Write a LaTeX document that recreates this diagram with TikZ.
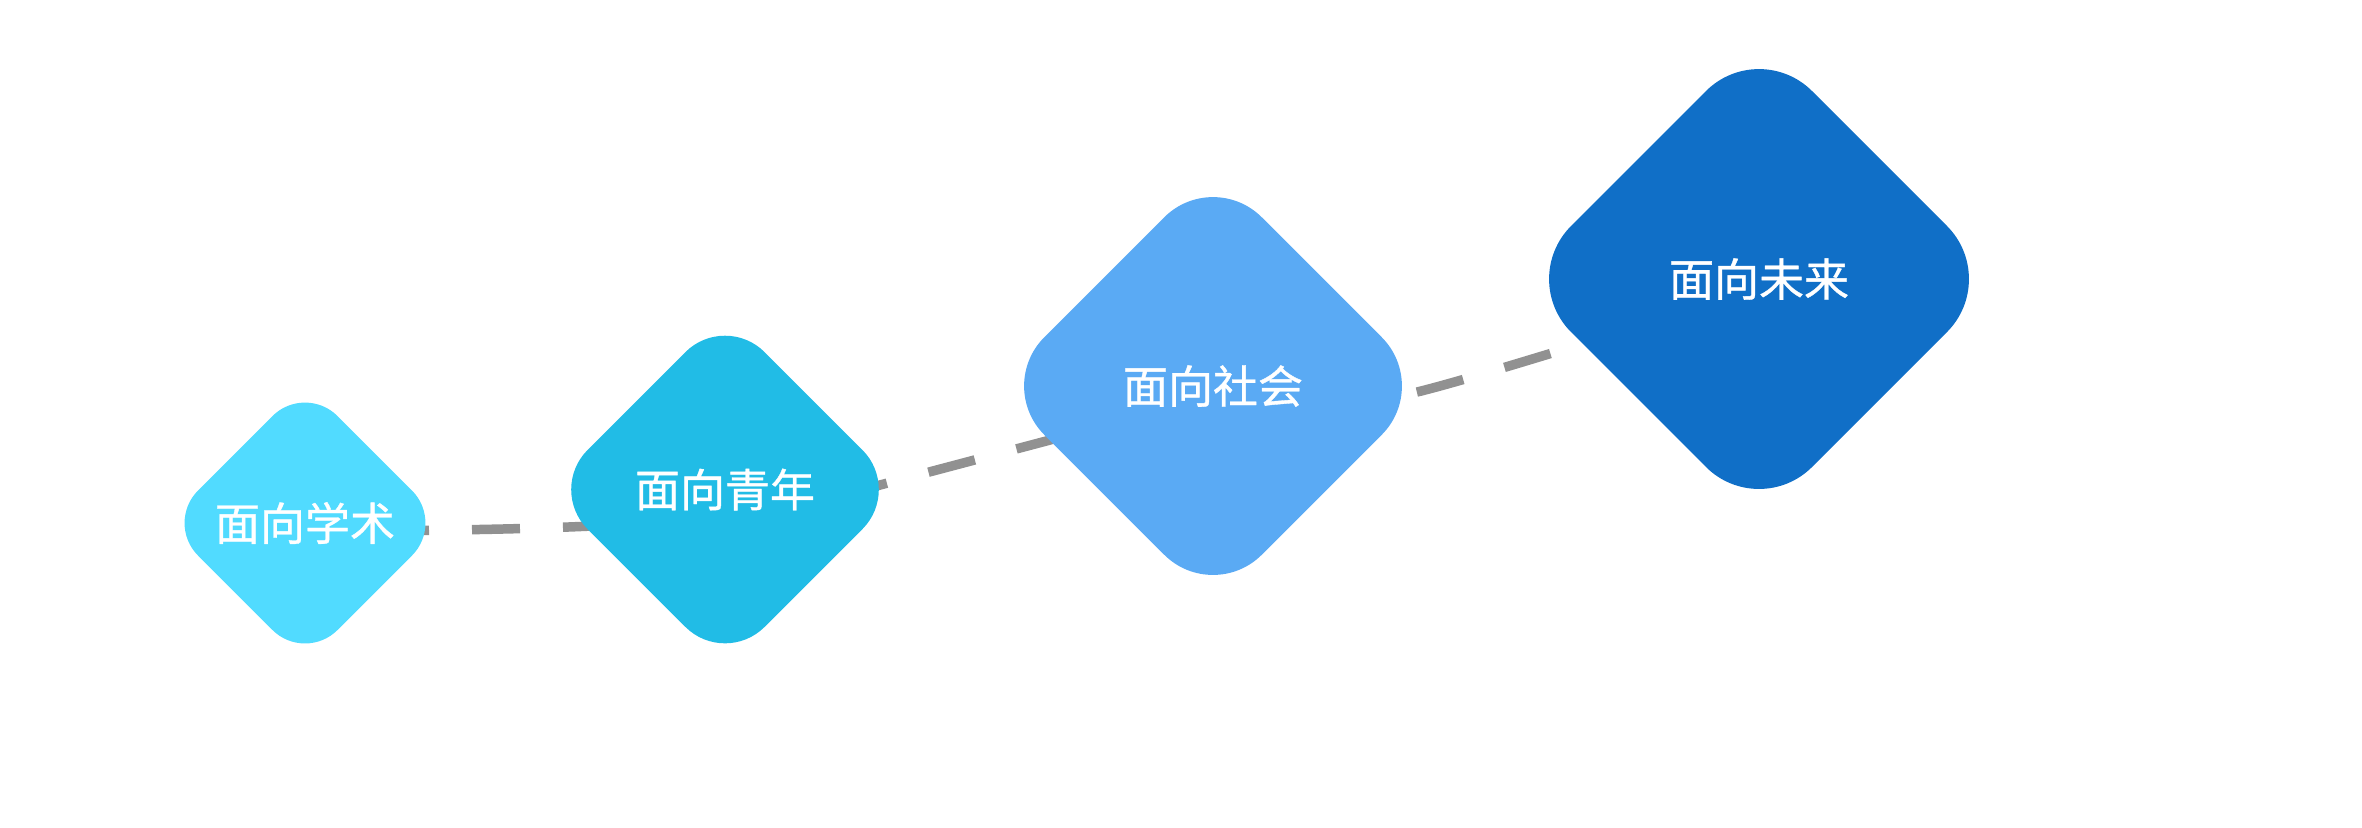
\documentclass[tikz,border=0pt]{standalone}
\usepackage{fontspec}
\newfontfamily\cjk{Noto Sans CJK SC}[FakeBold=0.8]
\usetikzlibrary{shapes.geometric}

\definecolor{xueshu}{RGB}{81,219,255}
\definecolor{qingnian}{RGB}{33,188,230}
\definecolor{shehui}{RGB}{90,170,244}
\definecolor{weilai}{RGB}{16,111,199}
\definecolor{trailgray}{RGB}{145,145,145}

\begin{document}
\begin{tikzpicture}[
    gem/.style={diamond, aspect=1, inner sep=0pt, outer sep=0pt, text=white, font=\cjk\fontsize{12.8}{15}\selectfont},
    trail/.style={draw=trailgray, line width=0.095cm, dash pattern=on 0.48cm off 0.43cm}
]
    \useasboundingbox (0,0) rectangle (23.62,-8.27);

    % path behind the diamonds
    \coordinate (t0) at (2.91,-5.31);
    \coordinate (ts) at (7.214,-5.163);
    \coordinate (t1) at (8.80,-4.85);
    \coordinate (t2) at (10.50,-4.40);
    \coordinate (t2b) at (12.30,-4.17);
    \coordinate (t3) at (14.17,-3.92);
    \coordinate (t4) at (16.60,-3.20);
    \draw[trail, dash phase=0.01cm] (t0) .. controls (5.004,-5.31) and (6.274,-5.270) .. (ts);
    \draw[trail, dash phase=0.61cm] (ts) .. controls (7.84,-5.092) and (8.32,-4.99) .. (t1) -- (t2)
        .. controls (11.3,-4.135) and (11.9,-4.17) .. (t2b);
    \draw[trail, dash phase=0.84cm] (t2b) .. controls (12.9,-4.17) and (13.4,-4.105) .. (t3)
        .. controls (14.67,-3.80) and (16.1,-3.35) .. (t4);

    \node[gem, fill=xueshu, minimum size=2.79cm, rounded corners=0.46cm] (xs) at (3.05,-5.23) {面向学术};
    \node[gem, fill=qingnian, minimum size=3.54cm, rounded corners=0.56cm] (qn) at (7.25,-4.895) {面向青年};
    \node[gem, fill=shehui, minimum size=4.35cm, rounded corners=0.69cm] (sh) at (12.13,-3.86) {面向社会};
    \node[gem, fill=weilai, minimum size=4.82cm, rounded corners=0.75cm] (wl) at (17.59,-2.79) {面向未来};
\end{tikzpicture}
\end{document}
